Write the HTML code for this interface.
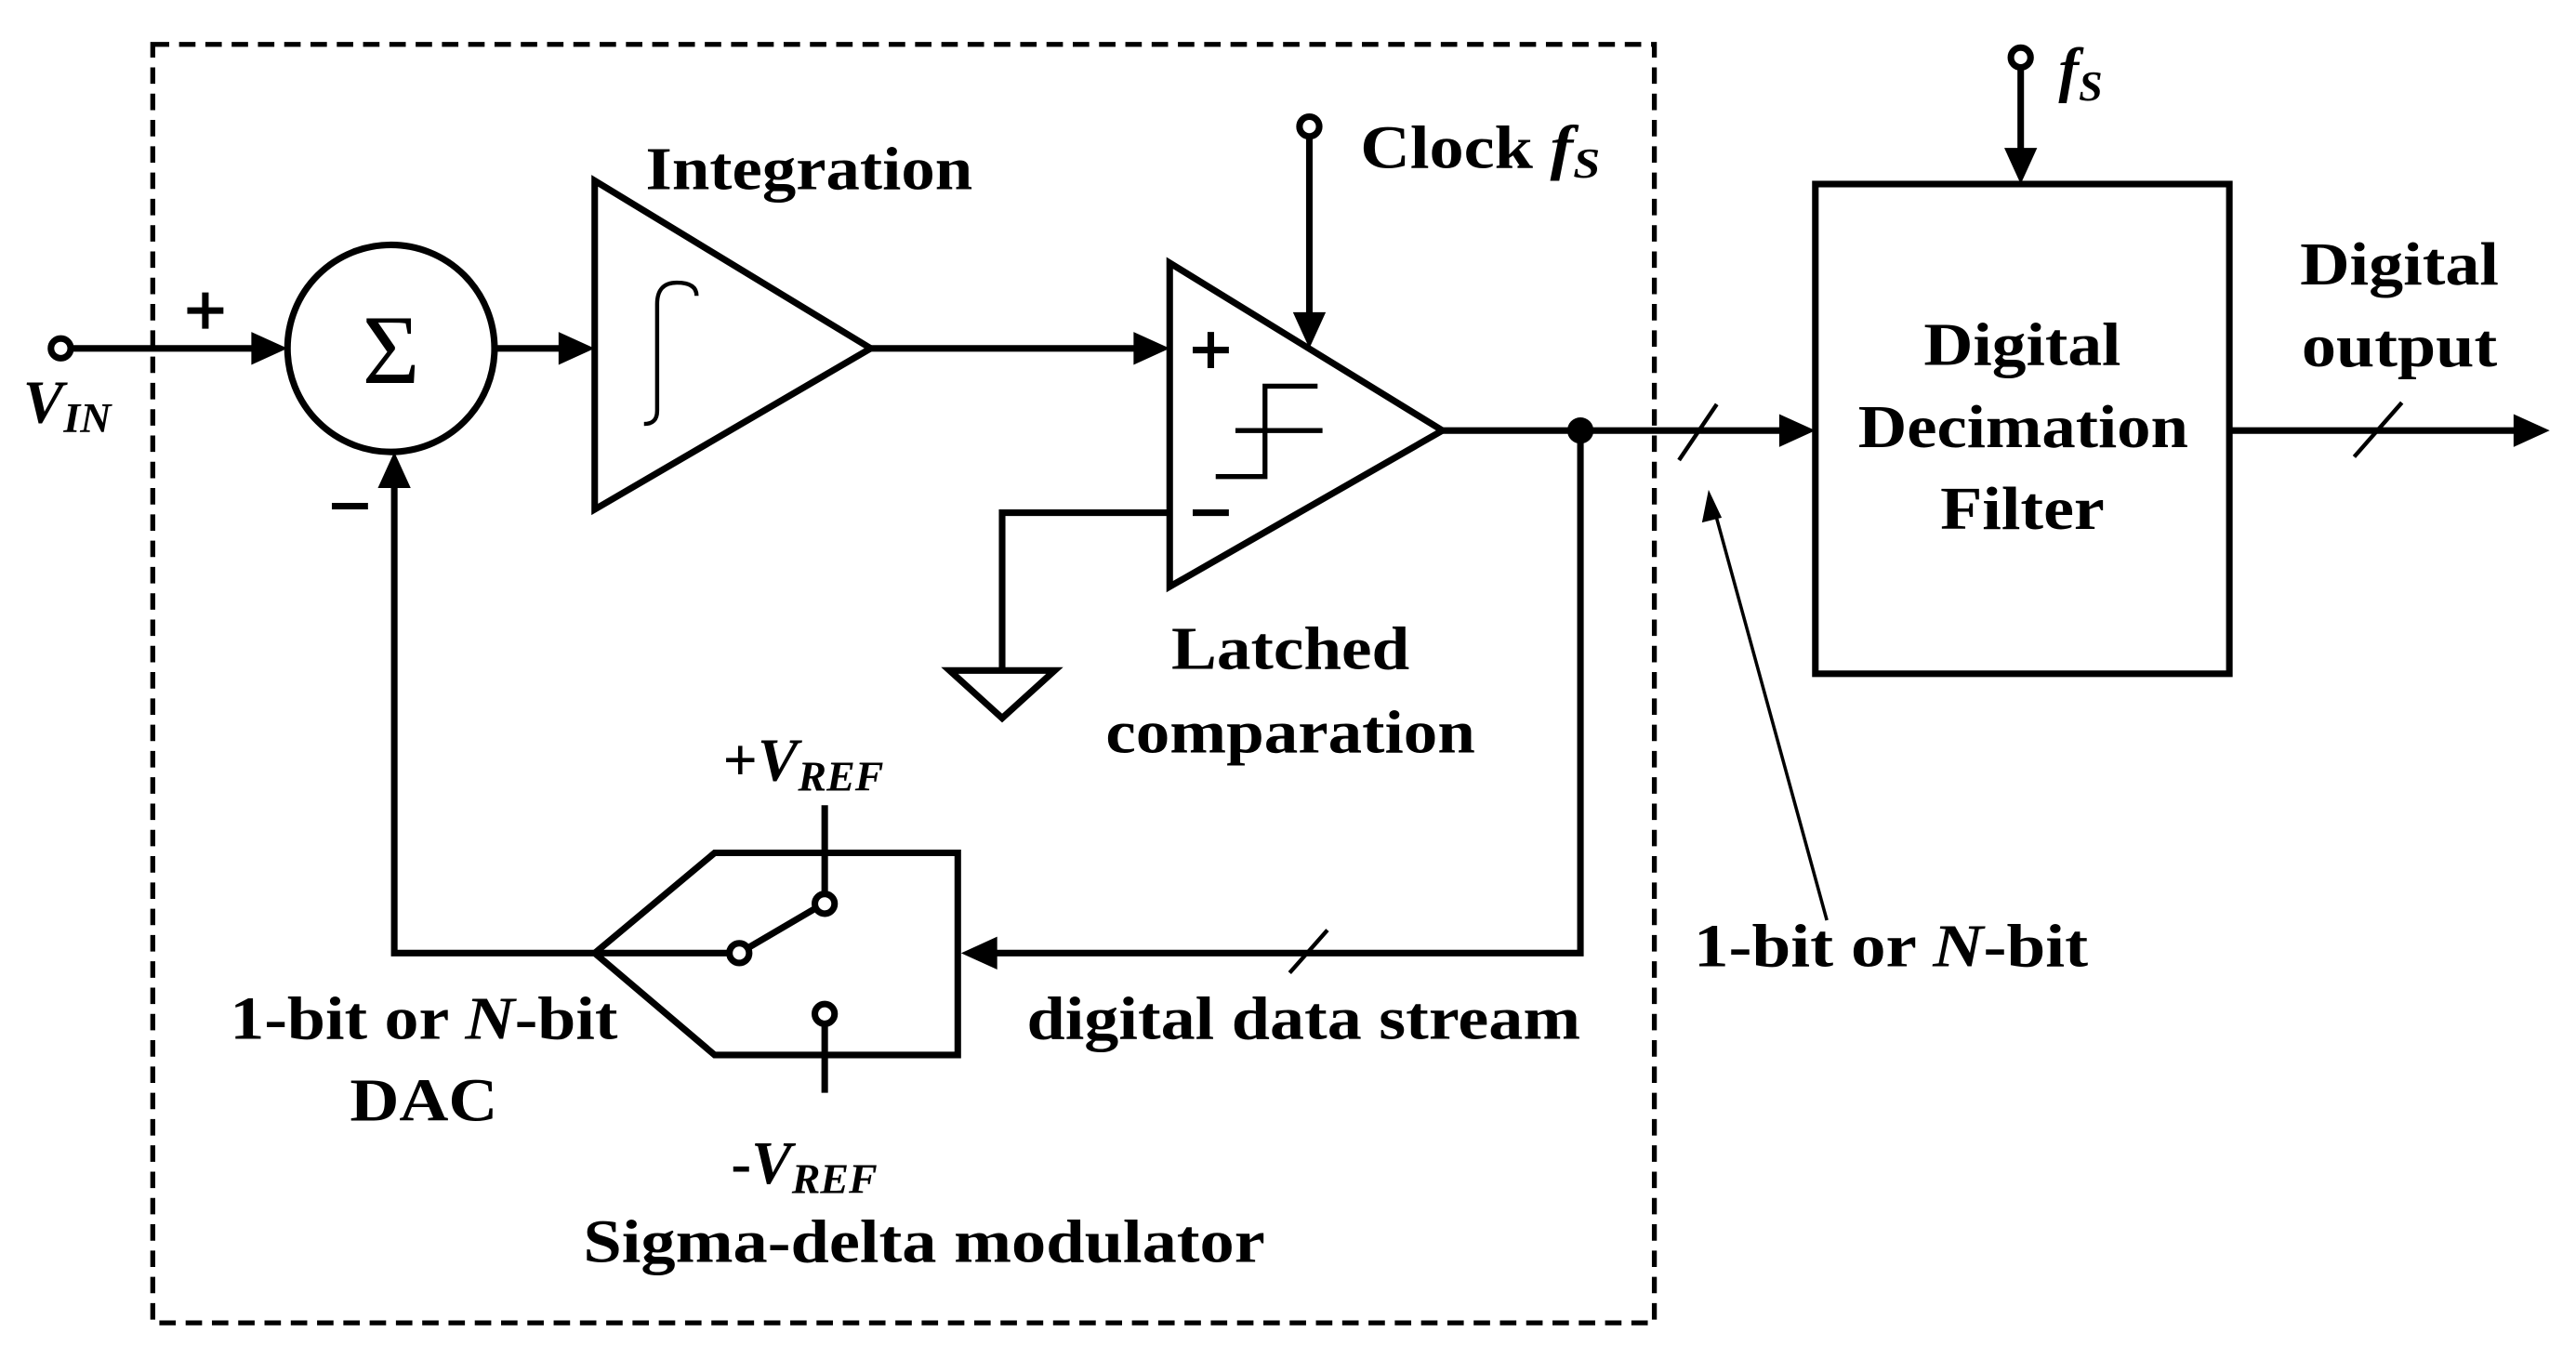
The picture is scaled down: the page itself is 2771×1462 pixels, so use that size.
<!DOCTYPE html>
<html><head><meta charset="utf-8"><style>
html,body{margin:0;padding:0;background:#fff;}
svg{display:block;}
text{font-family:"Liberation Serif",serif;font-weight:bold;font-size:37px;fill:#000;}
</style></head><body>
<svg width="2771" height="1462" viewBox="0 0 1568 827" preserveAspectRatio="none" xmlns="http://www.w3.org/2000/svg">
<g stroke="#000" stroke-width="4" fill="none">
<rect x="93" y="27" width="914" height="778" stroke-dasharray="10,6" stroke-width="3"/>
<circle cx="37" cy="212" r="6"/>
<line x1="43" y1="212" x2="160" y2="212"/>
<circle cx="238" cy="212" r="63"/>
<line x1="301" y1="212" x2="348" y2="212"/>
<polygon points="362,110 362,310 530,212"/>
<path d="M400,250 L400,185 Q400,172 412,172 Q424,172 424,180" stroke-width="2.5"/>
<path d="M400,250 Q400,258 392,258" stroke-width="2.5"/>
<line x1="530" y1="212" x2="697" y2="212"/>
<polygon points="712,160 712,357 878,262"/>
<path d="M740,290 L770,290 L770,235 L802,235 M752,262 L805,262" stroke-width="3"/>
<circle cx="797" cy="77" r="6"/>
<line x1="797" y1="83" x2="797" y2="197"/>
<path d="M712,312 L610,312 L610,408"/>
<polygon points="578,408 642,408 610,437"/>
<line x1="878" y1="262" x2="1090" y2="262"/>
<line x1="1022" y1="280" x2="1045" y2="246" stroke-width="2.5"/>
<path d="M962,262 L962,580 L600,580"/>
<line x1="785" y1="592" x2="808" y2="566" stroke-width="2.5"/>
<path d="M583,519 L435,519 L362,580 L435,642 L583,642 Z"/>
<line x1="362" y1="580" x2="444" y2="580"/>
<circle cx="450" cy="580" r="6"/>
<line x1="455" y1="577" x2="496" y2="553"/>
<circle cx="502" cy="550" r="6"/>
<circle cx="502" cy="617" r="6"/>
<line x1="502" y1="490" x2="502" y2="544"/>
<line x1="502" y1="623" x2="502" y2="665"/>
<path d="M362,580 L240,580 L240,290"/>
<rect x="1105" y="112" width="252" height="298"/>
<circle cx="1230" cy="35" r="6"/>
<line x1="1230" y1="41" x2="1230" y2="97"/>
<line x1="1357" y1="262" x2="1535" y2="262"/>
<line x1="1433" y1="278" x2="1462" y2="245" stroke-width="2.5"/>
<line x1="1112" y1="560" x2="1044" y2="312" stroke-width="2"/>
<!-- plus/minus signs -->
<path d="M114,189 L136,189 M125,178 L125,200" stroke-width="4"/>
<path d="M202,308 L224,308" stroke-width="4"/>
<path d="M726,213 L748,213 M737,202 L737,224" stroke-width="4"/>
<path d="M726,312 L748,312" stroke-width="4"/>
</g>
<g fill="#000">
<circle cx="962" cy="262" r="8"/>
<polygon points="175,212 153,202 153,222"/>
<polygon points="362,212 340,202 340,222"/>
<polygon points="712,212 690,202 690,222"/>
<polygon points="797,212 787,190 807,190"/>
<polygon points="1105,262 1083,252 1083,272"/>
<polygon points="585,580 607,570 607,590"/>
<polygon points="240,275 230,297 250,297"/>
<polygon points="1230,112 1220,90 1240,90"/>
<polygon points="1552,262 1530,252 1530,272"/>
<polygon points="1040,298 1036,318 1048,315"/>
</g>
<text x="238" y="233" text-anchor="middle" style="font-size:60px;font-weight:normal">Σ</text>
<text x="14" y="257" font-style="italic">V<tspan font-size="26" dy="6">IN</tspan></text>
<text x="393" y="115" textLength="199" lengthAdjust="spacingAndGlyphs">Integration</text>
<text x="828" y="102" textLength="146" lengthAdjust="spacingAndGlyphs">Clock <tspan font-style="italic">f<tspan font-size="26" dy="6">S</tspan></tspan></text>
<text x="713" y="407" textLength="145" lengthAdjust="spacingAndGlyphs">Latched</text>
<text x="673" y="458" textLength="225" lengthAdjust="spacingAndGlyphs">comparation</text>
<text x="440" y="475">+<tspan font-style="italic">V<tspan font-size="26" dy="6">REF</tspan></tspan></text>
<text x="445" y="720">-<tspan font-style="italic">V<tspan font-size="26" dy="6">REF</tspan></tspan></text>
<text x="140" y="632" textLength="236" lengthAdjust="spacingAndGlyphs">1-bit or <tspan font-style="italic">N</tspan>-bit</text>
<text x="213" y="682" textLength="90" lengthAdjust="spacingAndGlyphs">DAC</text>
<text x="625" y="632" textLength="337" lengthAdjust="spacingAndGlyphs">digital data stream</text>
<text x="355" y="768" textLength="415" lengthAdjust="spacingAndGlyphs">Sigma-delta modulator</text>
<text x="1171" y="222" textLength="120" lengthAdjust="spacingAndGlyphs">Digital</text>
<text x="1131" y="272" textLength="201" lengthAdjust="spacingAndGlyphs">Decimation</text>
<text x="1181" y="322" textLength="100" lengthAdjust="spacingAndGlyphs">Filter</text>
<text x="1253" y="55" font-style="italic">f<tspan font-size="26" dy="6">S</tspan></text>
<text x="1400" y="173" textLength="121" lengthAdjust="spacingAndGlyphs">Digital</text>
<text x="1401" y="223" textLength="119" lengthAdjust="spacingAndGlyphs">output</text>
<text x="1031" y="588" textLength="240" lengthAdjust="spacingAndGlyphs">1-bit or <tspan font-style="italic">N</tspan>-bit</text>
</svg>
</body></html>
